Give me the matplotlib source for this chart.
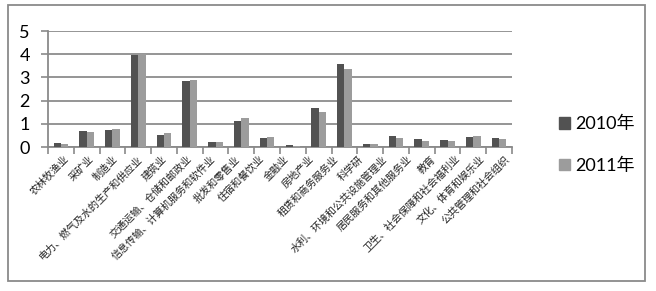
import matplotlib
matplotlib.use("Agg")
import matplotlib.pyplot as plt
import numpy as np
from matplotlib.patches import Rectangle, Patch

categories = ["农林牧渔业", "采矿业", "制造业", "电力、燃气及水的生产和供应业", "建筑业",
              "交通运输、仓储和邮政业", "信息传输、计算机服务和软件业", "批发和零售业",
              "住宿和餐饮业", "金融业", "房地产业", "租赁和商务服务业", "科学研",
              "水利、环境和公共设施管理业", "居民服务和其他服务业", "教育",
              "卫生、社会保障和社会福利业", "文化、体育和娱乐业", "公共管理和社会组织"]
series_names = ["2010年", "2011年"]
values_2010 = [0.17, 0.69, 0.73, 3.95, 0.53, 2.85, 0.23, 1.14, 0.40, 0.09, 1.66, 3.59, 0.14, 0.46, 0.35, 0.30, 0.43, 0.37]
values_2011 = [0.14, 0.66, 0.79, 4.00, 0.59, 2.90, 0.23, 1.25, 0.42, 0.06, 1.51, 3.36, 0.14, 0.39, 0.26, 0.27, 0.49, 0.35]
yticks = [0, 1, 2, 3, 4, 5]

W, H = 656, 291
fig = plt.figure(figsize=(W / 100, H / 100), dpi=100)
fig.patch.set_facecolor("white")

# outer chart border
fig.add_artist(Rectangle((8 / W, 1 - 281 / H), (645 - 8) / W, (281 - 4.5) / H,
                         transform=fig.transFigure, fill=False, edgecolor="#8a8a8a", lw=1.3))

ax = fig.add_axes([48 / W, 1 - 147 / H, (512 - 48) / W, (147 - 31) / H])
n = len(values_2010)
x = np.arange(n)
bw = 1 / 3.5
c1, c2 = "#525252", "#9c9c9c"
ax.bar(x - bw / 2, values_2010, bw, color=c1, label=series_names[0], zorder=3)
ax.bar(x + bw / 2, values_2011, bw, color=c2, label=series_names[1], zorder=3)

ax.set_xlim(-0.5, n - 0.5)
ax.set_ylim(0, 5)
ax.set_yticks(yticks)
ax.set_yticklabels([str(v) for v in yticks], fontsize=13, family=["Lato", "DejaVu Sans"])
ax.tick_params(axis="y", length=5, width=1.2, color="#8a8a8a", pad=8)
ax.grid(axis="y", color="#8c8c8c", lw=1.3, zorder=0)
for s in ["top", "right"]:
    ax.spines[s].set_visible(False)
for s in ["left", "bottom"]:
    ax.spines[s].set_color("#8a8a8a")
    ax.spines[s].set_linewidth(1.3)

# category boundary tick marks
ax.set_xticks(np.arange(n + 1) - 0.5, minor=True)
ax.tick_params(axis="x", which="minor", length=5, width=1.2, color="#8a8a8a", direction="out")
# labels (19 labels spread across the axis, as in the original)
lab_pos = np.linspace(0.12, 17.2, len(categories))
ax.set_xticks(lab_pos)
ax.set_xticklabels(categories, rotation=45, ha="right", va="top", rotation_mode="anchor",
                   fontsize=7.3, family=["Noto Sans CJK SC"], color="#222222")
ax.tick_params(axis="x", which="major", length=0, pad=5)

handles = [Patch(color=c1), Patch(color=c2)]
leg = fig.legend(handles, series_names, loc="center left", bbox_to_anchor=(543 / W, 1 - 145 / H),
                 frameon=False, prop={"family": ["Lato", "Noto Sans CJK SC"], "size": 13},
                 handlelength=0.6, handleheight=0.6, handletextpad=0.3, labelspacing=1.4)

fig.savefig("out.png", dpi=100)
